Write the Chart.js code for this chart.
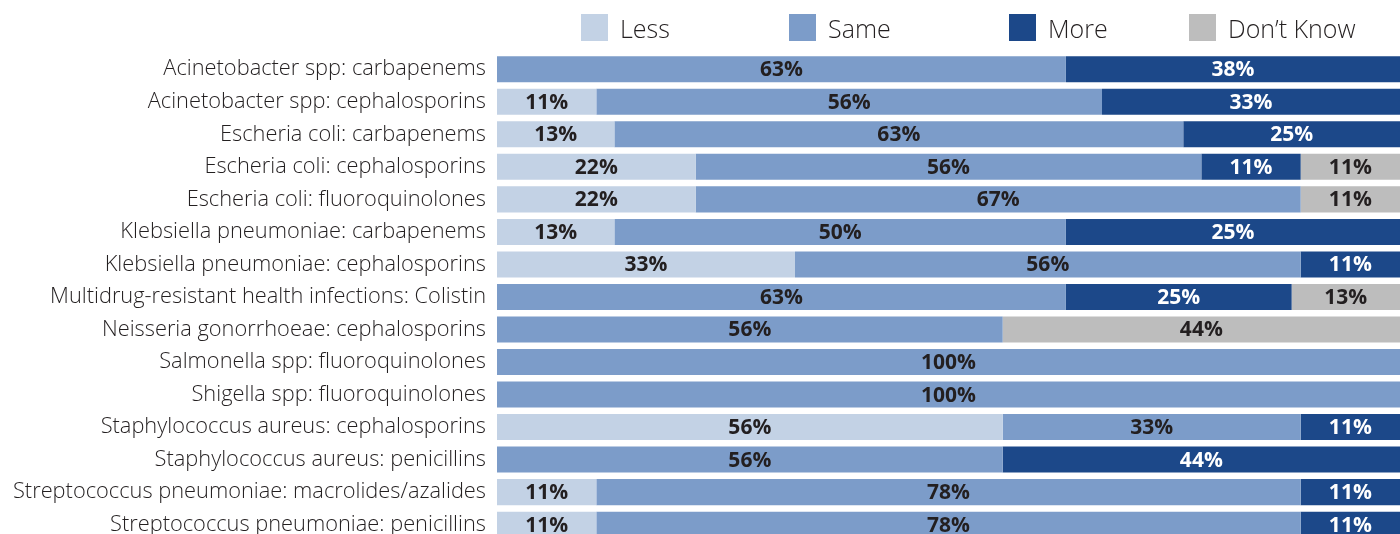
<!DOCTYPE html>
<html>
<head>
<meta charset="utf-8">
<script src="https://cdn.jsdelivr.net/npm/chart.js@4.4.1/dist/chart.umd.min.js"></script>
<style>
  html, body { margin: 0; padding: 0; background: #fff; overflow: hidden; }
  body { width: 1400px; height: 534px; position: relative; font-family: "Open Sans", sans-serif; }
  #chart { position: absolute; left: 0; top: 0; }
  #legend { position: absolute; top: 14px; left: 0; width: 1400px; height: 27px; z-index: 2; }
  .item { position: absolute; top: 0; height: 27px; display: flex; align-items: center; font-size: 25px; font-weight: 300; color: #231f20; }
  .item span.box { width: 27px; height: 27px; margin-right: 12px; display: inline-block; }
</style>
</head>
<body>
<div id="legend"></div>
<!-- canvas um pouco mais alto que a janela: a última barra fica cortada como no original -->
<canvas id="chart" width="1400" height="557"></canvas>
<script>
// Categorias (eixo y)
const categorias = [
    'Acinetobacter spp: carbapenems',
    'Acinetobacter spp: cephalosporins',
    'Escheria coli: carbapenems',
    'Escheria coli: cephalosporins',
    'Escheria coli: fluoroquinolones',
    'Klebsiella pneumoniae: carbapenems',
    'Klebsiella pneumoniae: cephalosporins',
    'Multidrug-resistant health infections: Colistin',
    'Neisseria gonorrhoeae: cephalosporins',
    'Salmonella spp: fluoroquinolones',
    'Shigella spp: fluoroquinolones',
    'Staphylococcus aureus: cephalosporins',
    'Staphylococcus aureus: penicillins',
    'Streptococcus pneumoniae: macrolides/azalides',
    'Streptococcus pneumoniae: penicillins'
];

// Séries (percentuais)
const less     = [0, 11, 13, 22, 22, 13, 33, 0, 0, 0, 0, 56, 0, 11, 11];
const same     = [63, 56, 63, 56, 67, 50, 56, 63, 56, 100, 100, 33, 56, 78, 78];
const more     = [38, 33, 25, 11, 0, 37, 11, 25, 0, 0, 0, 11, 44, 11, 11];
const dontKnow = [0, 0, 0, 11, 11, 0, 0, 13, 44, 0, 0, 0, 0, 0, 0];

// Texto impresso na barra "More" (o original mostra 25% na Klebsiella carbapenems)
const moreTexto = ['38%', '33%', '25%', '11%', '', '25%', '11%', '25%', '', '', '', '11%', '44%', '11%', '11%'];

const series = [
    { label: 'Less', data: less, color: '#c3d2e5', textColor: '#231f20' },
    { label: 'Same', data: same, color: '#7c9cc9', textColor: '#231f20' },
    { label: 'More', data: more, color: '#1c4889', textColor: '#ffffff', texts: moreTexto },
    { label: "Don\u2019t Know", data: dontKnow, color: '#bdbdbd', textColor: '#231f20' }
];

// Legenda em HTML
const legendPos = [581, 789, 1009, 1189];
const legend = document.getElementById('legend');
series.forEach((s, i) => {
    const el = document.createElement('div');
    el.className = 'item';
    el.style.left = legendPos[i] + 'px';
    el.innerHTML = `<span class="box" style="background:${s.color}"></span>${s.label}`;
    legend.appendChild(el);
});

// Plugin simples para escrever os valores no meio de cada segmento
const valoresPlugin = {
    id: 'valores',
    afterDatasetsDraw(chart) {
        const ctx = chart.ctx;
        const area = chart.chartArea;
        ctx.save();
        ctx.font = 'bold 21px "Open Sans", sans-serif';
        ctx.textAlign = 'center';
        ctx.textBaseline = 'middle';
        chart.data.datasets.forEach((ds, di) => {
            const meta = chart.getDatasetMeta(di);
            const s = series[di];
            meta.data.forEach((bar, i) => {
                const v = ds.data[i];
                if (!v) return;
                const txt = s.texts ? s.texts[i] : v + '%';
                if (!txt) return;
                const x1 = Math.max(bar.base, area.left);
                const x2 = Math.min(bar.x, area.right);
                ctx.fillStyle = s.textColor;
                ctx.fillText(txt, (x1 + x2) / 2, bar.y + 1);
            });
        });
        ctx.restore();
    }
};

new Chart(document.getElementById('chart'), {
    type: 'bar',
    data: {
        labels: categorias,
        datasets: series.map(s => ({
            label: s.label,
            data: s.data,
            backgroundColor: s.color,
            borderWidth: 0,
            barPercentage: 0.8,
            categoryPercentage: 1.0
        }))
    },
    options: {
        indexAxis: 'y',
        responsive: false,
        animation: false,
        layout: { padding: { top: 53, right: 0, bottom: 0, left: 0 } },
        plugins: {
            legend: { display: false },
            tooltip: { enabled: false }
        },
        scales: {
            x: {
                stacked: true,
                display: false,
                min: 0,
                max: 100
            },
            y: {
                stacked: true,
                grid: { display: false },
                border: { display: false },
                ticks: {
                    color: '#231f20',
                    padding: 3,
                    font: { family: '"Open Sans", sans-serif', size: 21.8, weight: 300 }
                },
                afterFit(scale) { scale.width = 497; }
            }
        }
    },
    plugins: [valoresPlugin]
});
</script>
</body>
</html>
